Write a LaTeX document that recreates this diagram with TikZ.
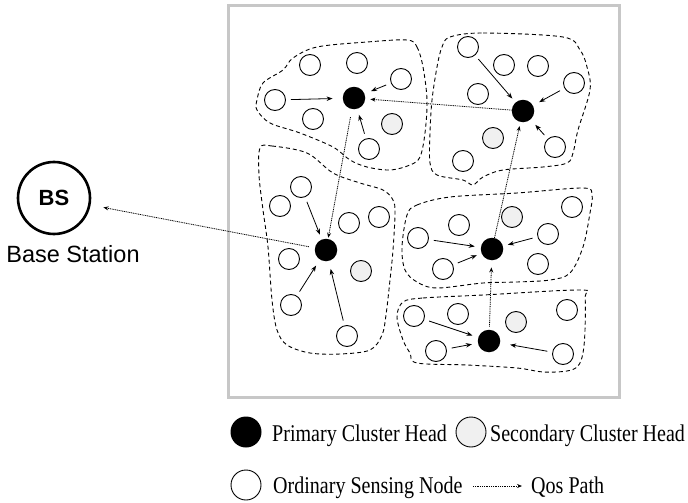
\documentclass[tikz,border=0pt]{standalone}
\usepackage{fontspec}
\setmainfont{Liberation Serif}
\setsansfont{Liberation Sans}
\usetikzlibrary{arrows.meta}
\begin{document}
\begin{tikzpicture}[x=1pt,y=-1pt,
  ord/.style={circle,draw,line width=0.9pt,minimum size=21pt,inner sep=0pt},
  pch/.style={circle,fill=black,minimum size=22.5pt,inner sep=0pt},
  sch/.style={circle,draw,line width=0.9pt,fill=black!6,minimum size=21pt,inner sep=0pt},
  link/.style={line width=0.8pt,-{Stealth[length=6pt,width=4.5pt]},shorten <=5pt,shorten >=7pt},
  qos/.style={line width=0.8pt,dash pattern=on 1pt off 0.8pt,-{Stealth[length=5pt,width=4pt]}},
  region/.style={line width=0.9pt,dash pattern=on 4pt off 3pt},
  lgd/.style={font=\fontsize{24}{28}\selectfont,inner sep=0pt,anchor=base west},
]
\useasboundingbox (0,0) rectangle (688,503);

% frame
\draw[black!22,line width=3pt] (228.5,6) rectangle (619.5,397.5);

% cluster regions
\draw[region] plot[smooth cycle,tension=0.55] coordinates {
 (407,40) (417,47) (423,67) (427,100) (425,133) (420,157) (410,165) (390,170)
 (367,167) (350,160) (333,147) (300,133) (270,123) (257,110) (257,100) (263,83)
 (283,70) (293,58) (317,47) (367,42)};
\draw[region] plot[smooth cycle,tension=0.55] coordinates {
 (450,37) (483,33) (563,37) (580,50) (587,67) (590,90) (578,130) (573,153)
 (567,163) (543,167) (503,170) (483,177) (473,185) (463,180) (437,175) (430,163)
 (430,133) (432,100) (437,67) (442,47)};
\draw[region] plot[smooth cycle,tension=0.55] coordinates {
 (260,148) (272,146) (307,153) (333,173) (360,183) (383,190) (393,200) (395,213)
 (393,250) (390,280) (386,315) (382,335) (370,350) (340,354) (310,353) (287,345)
 (277,330) (272,300) (268,247) (263,210) (259,175)};
\draw[region] plot[smooth cycle,tension=0.55] coordinates {
 (407,215) (417,205) (450,197) (517,193) (583,188) (592,195) (590,213) (583,247)
 (570,273) (550,280) (517,282) (483,283) (437,288) (417,282) (405,270) (402,247)};
\draw[region] plot[smooth cycle,tension=0.55] coordinates {
 (403,302) (423,298) (483,295) (580,290) (585,297) (585,330) (583,353) (578,366)
 (567,371) (543,372) (517,368) (467,365) (417,363) (410,353) (403,340) (397,317)};

% cluster A (top-left)
\node[pch] (A) at (354,98) {};
\node[ord] (a1) at (310,65) {};
\node[ord] (a2) at (357,63) {};
\node[ord] (a3) at (401,79) {};
\node[ord] (a4) at (275,100) {};
\node[ord] (a5) at (313,119) {};
\node[sch] (sA) at (392,124) {};
\node[ord] (a6) at (369,149) {};
\draw[link,shorten >=10pt] (a4) -- (A);
\draw[link] (a3) -- (A);
\draw[link,shorten >=6pt] (a6) -- (A);

% cluster B (top-right)
\node[pch] (B) at (523,111) {};
\node[ord] (b1) at (468,47) {};
\node[ord] (b2) at (504,65) {};
\node[ord] (b3) at (538,66) {};
\node[ord] (b4) at (574,83) {};
\node[ord] (b5) at (478,94) {};
\node[sch] (sB) at (493,138) {};
\node[ord] (b6) at (555,147) {};
\node[ord] (b7) at (463,161) {};
\draw[link,shorten >=5pt] (b1) -- (B);
\draw[link] (b4) -- (B);
\draw[link] (b6) -- (B);

% cluster C (middle-left)
\node[pch] (C) at (326,250) {};
\node[ord] (c1) at (301,187) {};
\node[ord] (c2) at (280,206) {};
\node[ord] (c3) at (349,223) {};
\node[ord] (c4) at (379,217) {};
\node[ord] (c5) at (289,259) {};
\node[sch] (sC) at (361,271) {};
\node[ord] (c6) at (291,305) {};
\node[ord] (c7) at (347,336) {};
\draw[link,shorten >=5pt] (c1) -- (C);
\draw[link] (c6) -- (C);
\draw[link,shorten >=8pt] (c7) -- (C);

% cluster D (middle-right)
\node[pch] (D) at (492,249) {};
\node[ord] (d1) at (418,238) {};
\node[ord] (d2) at (459,225) {};
\node[sch] (sD) at (512,217) {};
\node[ord] (d3) at (572,207) {};
\node[ord] (d4) at (548,234) {};
\node[ord] (d5) at (443,269) {};
\node[ord] (d6) at (538,264) {};
\draw[link,shorten >=6pt] (d1) -- (D);
\draw[link,shorten >=5pt] (d5) -- (D);
\draw[link,shorten >=5pt] (d4) -- (D);

% cluster E (bottom-right)
\node[pch] (E) at (489,341) {};
\node[ord] (e1) at (414,316) {};
\node[ord] (e2) at (458,314) {};
\node[sch] (sE) at (516,322) {};
\node[ord] (e3) at (567,310) {};
\node[ord] (e4) at (436,351) {};
\node[ord] (e5) at (563,354) {};
\draw[link,shorten >=6pt] (e1) -- (E);
\draw[link,shorten >=6pt] (e4) -- (E);
\draw[link,shorten >=10pt] (e5) -- (E);

% base station
\node[circle,draw,line width=2.6pt,minimum size=72pt,inner sep=0pt,
      font=\sffamily\bfseries\fontsize{22}{26}\selectfont] (BS) at (54,198) {BS};
\node[font=\sffamily\fontsize{23.5}{28}\selectfont,anchor=base,inner sep=0pt] (bsl) at (73,262) {Base Station};

% QoS paths
\draw[qos,shorten >=5pt] (B) -- (A);
\draw[qos,shorten <=8pt,shorten >=1pt] (A) -- (C);
\draw[qos,shorten <=6pt,shorten >=13pt] (C) -- (BS);
\draw[qos,shorten <=3pt,shorten >=7pt] (E) -- (D);
\draw[qos,shorten >=4pt] (D) -- (B);

% legend
\node[pch,minimum size=31pt] (lp) at (246,432) {};
\node[lgd] (lpt) at (272,441.5) {\scalebox{0.835}[1]{Primary Cluster Head}};
\node[sch,minimum size=30pt] (ls) at (471,432) {};
\node[lgd] (lst) at (490,441.5) {\scalebox{0.835}[1]{Secondary Cluster Head}};
\node[ord,minimum size=30pt] (lo) at (246,485) {};
\node[lgd] (lot) at (273,493.5) {\scalebox{0.835}[1]{Ordinary Sensing Node}};
\coordinate (qa) at (473,486);
\coordinate (qb) at (522,486);
\draw[qos] (qa) -- (qb);
\node[lgd] (lqt) at (531,493.5) {\scalebox{0.835}[1]{Qos Path}};
\end{tikzpicture}
\end{document}
